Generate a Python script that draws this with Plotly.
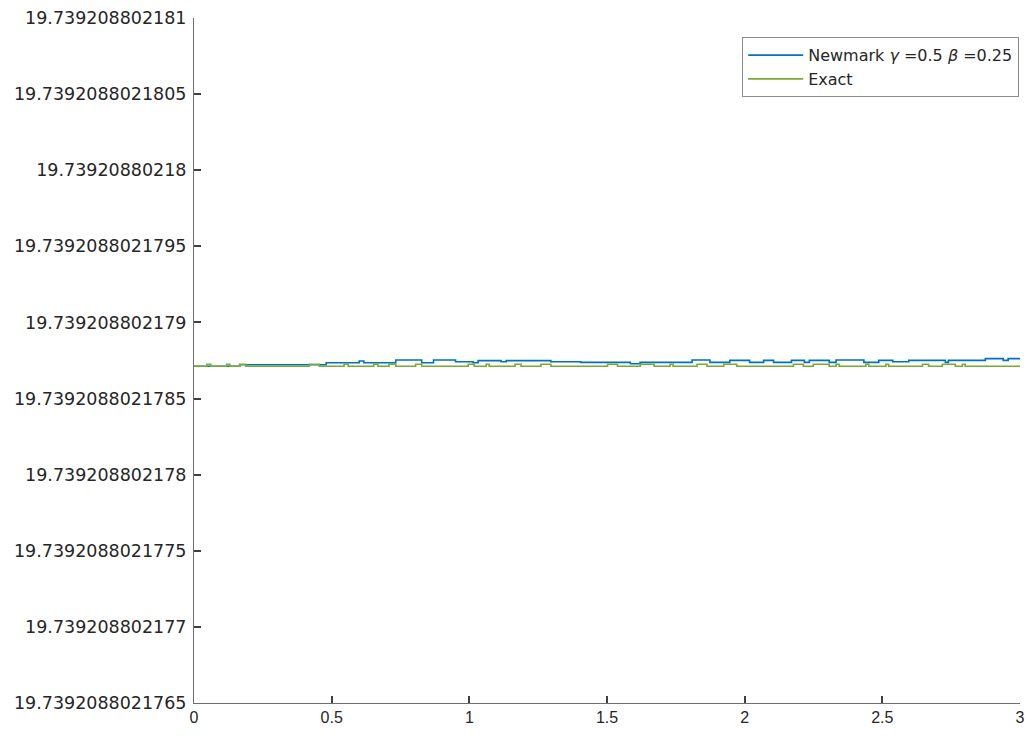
import plotly.graph_objects as go

# Values are expressed as offsets: value = 19.739208802 + offset * 1e-13
Y_BASE = 19.739208802
Y_UNIT = 1e-13

y_tick_offsets = [1765, 1770, 1775, 1780, 1785, 1790, 1795, 1800, 1805, 1810]
y_tick_labels = ["19.7392088021765", "19.739208802177", "19.7392088021775",
                 "19.739208802178", "19.7392088021785", "19.739208802179",
                 "19.7392088021795", "19.73920880218", "19.7392088021805",
                 "19.739208802181"]
x_tick_vals = [0, 0.5, 1, 1.5, 2, 2.5, 3]
x_tick_labels = ["0", "0.5", "1", "1.5", "2", "2.5", "3"]

# Newmark (gamma=0.5, beta=0.25): step points (time, offset)
newmark_t = [0.0, 0.166, 0.480, 0.600, 0.617, 0.733, 0.827, 0.870, 0.950, 1.014,
             1.032, 1.115, 1.134, 1.296, 1.404, 1.585, 1.620, 1.809, 1.874, 1.946,
             2.018, 2.069, 2.105, 2.170, 2.217, 2.235, 2.307, 2.332, 2.433, 2.487,
             2.538, 2.596, 2.729, 2.740, 2.874, 2.939, 2.957, 3.0]
newmark_v = [1787.12, 1787.22, 1787.35, 1787.47, 1787.35, 1787.53, 1787.35, 1787.53, 1787.42, 1787.35,
             1787.49, 1787.42, 1787.49, 1787.42, 1787.38, 1787.29, 1787.38, 1787.53, 1787.38, 1787.51,
             1787.38, 1787.51, 1787.38, 1787.51, 1787.38, 1787.51, 1787.38, 1787.53, 1787.38, 1787.51,
             1787.42, 1787.51, 1787.38, 1787.51, 1787.62, 1787.51, 1787.62, 1787.62]

# Exact: step points (time, offset)
exact_t = [0.0, 0.047, 0.061, 0.119, 0.130, 0.166, 0.188, 0.419, 0.455, 0.545, 0.560,
           0.653, 0.668, 0.708, 0.733, 0.805, 0.827, 0.996, 1.018, 1.061, 1.072,
           1.166, 1.188, 1.260, 1.296, 1.502, 1.538, 1.621, 1.671, 1.729, 1.740,
           1.827, 1.863, 1.924, 1.971, 2.177, 2.213, 2.249, 2.307, 2.332, 2.343,
           2.440, 2.451, 2.513, 2.523, 2.646, 2.668, 2.718, 2.765, 2.791, 2.801, 3.0]
exact_v = [1787.12, 1787.25, 1787.12, 1787.25, 1787.12, 1787.25, 1787.12, 1787.25, 1787.12, 1787.25, 1787.12,
           1787.25, 1787.12, 1787.25, 1787.12, 1787.25, 1787.12, 1787.25, 1787.12, 1787.25, 1787.12,
           1787.25, 1787.12, 1787.25, 1787.12, 1787.25, 1787.12, 1787.25, 1787.12, 1787.25, 1787.12,
           1787.25, 1787.12, 1787.25, 1787.12, 1787.25, 1787.12, 1787.25, 1787.12, 1787.25, 1787.12,
           1787.25, 1787.12, 1787.25, 1787.12, 1787.25, 1787.12, 1787.25, 1787.12, 1787.25, 1787.12, 1787.12]

fig = go.Figure()
fig.add_trace(go.Scatter(
    x=newmark_t, y=newmark_v, mode="lines", line_shape="hv",
    line=dict(color="#0072BD", width=1.6),
    name="Newmark <i>γ</i> =0.5 <i>β</i> =0.25"))
fig.add_trace(go.Scatter(
    x=exact_t, y=exact_v, mode="lines", line_shape="hv",
    line=dict(color="#77AC30", width=1.6),
    name="Exact"))

axis_color = "#6e6e6e"
tick_color = "#404040"

fig.update_layout(
    width=1032, height=736,
    margin=dict(l=194, r=7, t=18, b=33),
    paper_bgcolor="white", plot_bgcolor="white",
    font=dict(family="DejaVu Sans, sans-serif", color="#262626"),
    showlegend=True,
    legend=dict(
        x=0.999, y=0.972, xanchor="right", yanchor="top",
        bgcolor="white", bordercolor="#8c8c8c", borderwidth=1,
        font=dict(family="DejaVu Sans, sans-serif", size=16, color="#262626"),
        itemwidth=55, tracegroupgap=0,
    ),
    xaxis=dict(
        range=[0, 3], tickmode="array", tickvals=x_tick_vals, ticktext=x_tick_labels,
        showgrid=False, zeroline=False, showline=True, linecolor=axis_color, linewidth=1,
        ticks="inside", ticklen=7, tickcolor=tick_color, tickwidth=2,
        tickfont=dict(family="Liberation Sans, Arial, sans-serif", size=16, color="#262626"),
    ),
    yaxis=dict(
        range=[y_tick_offsets[0], y_tick_offsets[-1]], tickmode="array",
        tickvals=y_tick_offsets, ticktext=y_tick_labels,
        showgrid=False, zeroline=False, showline=True, linecolor=axis_color, linewidth=1,
        ticks="inside", ticklen=7, tickcolor=tick_color, tickwidth=2,
        tickfont=dict(family="DejaVu Sans, sans-serif", size=17.5, color="#262626"),
        ticklabelstandoff=3,
    ),
)

fig.write_html("out.html")
